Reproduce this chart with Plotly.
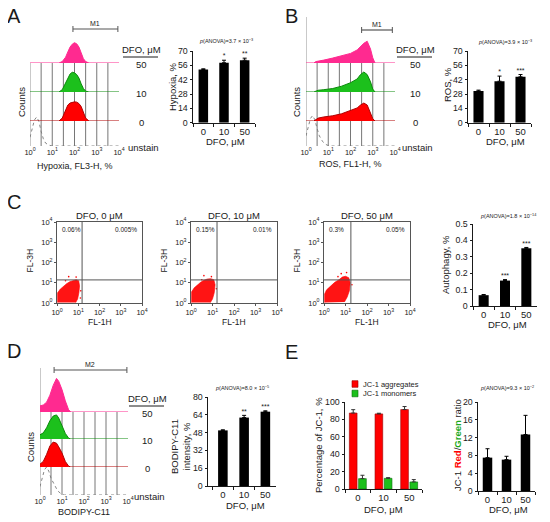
import plotly.graph_objects as go

W, H = 550, 522
OX, OY = 8, 8  # the page puts the figure 8 px in from the corner
FONT = "Arial, Liberation Sans, sans-serif"
INK = "#1a1a1a"
PINK, GREEN, RED = "#ff2a90", "#1cc01c", "#ff0000"

# ---------------- data ----------------
DFO = ["0", "10", "50"]
ROWS = ["50", "10", "0", "unstain"]
DECADES = [0, 1, 2, 3, 4]
DECADE_TEXT = ["10<sup>%d</sup>" % d for d in DECADES]

# flow histograms: log10 intensity bins, relative counts (1 = one row)
hypo_x = [0, 1.3, 1.45, 1.6, 1.7, 1.8, 1.9, 2.0, 2.1, 2.2, 2.3, 2.4, 2.5, 2.65, 4]
hypo_50 = [0, 0, 0.05, 0.2, 0.38, 0.55, 0.65, 0.7, 0.66, 0.55, 0.35, 0.15, 0.05, 0, 0]
hypo_10 = [0, 0, 0.08, 0.3, 0.5, 0.62, 0.68, 0.66, 0.6, 0.48, 0.28, 0.12, 0.03, 0, 0]
hypo_0 = [0, 0, 0.1, 0.35, 0.55, 0.62, 0.65, 0.66, 0.65, 0.6, 0.5, 0.3, 0.1, 0, 0]
hypo_un_x = [0, 0.1, 0.2, 0.3, 0.4, 0.5, 0.6, 0.7, 0.85, 1.0, 4]
hypo_un = [0.3, 0.6, 0.9, 1.0, 0.85, 0.5, 0.25, 0.1, 0.03, 0, 0]

ros_x = [0, 0.35, 0.45, 0.55, 0.8, 1.2, 1.6, 2.0, 2.3, 2.45, 2.6, 2.75, 2.9, 3.0, 3.1, 4]
ros_50 = [0, 0, 0.05, 0.07, 0.1, 0.17, 0.25, 0.33, 0.45, 0.58, 0.68, 0.75, 0.48, 0.18, 0, 0]
ros_10 = [0, 0, 0.03, 0.06, 0.08, 0.12, 0.2, 0.32, 0.45, 0.6, 0.69, 0.6, 0.35, 0.1, 0, 0]
ros_0 = [0, 0, 0.05, 0.1, 0.14, 0.18, 0.25, 0.35, 0.45, 0.55, 0.62, 0.55, 0.3, 0.08, 0, 0]
ros_un_x = [0, 0.1, 0.2, 0.3, 0.4, 0.5, 0.6, 0.75, 0.9, 1.05, 4]
ros_un = [0.35, 0.65, 0.95, 1.05, 0.9, 0.6, 0.35, 0.15, 0.05, 0, 0]

bod_x = [0, 0.15, 0.3, 0.45, 0.6, 0.75, 0.85, 1.0, 1.15, 1.3, 1.4, 4]
bod_50 = [0.22, 0.25, 0.35, 0.6, 0.95, 1.2, 1.1, 0.8, 0.4, 0.08, 0, 0]
bod_10 = [0.15, 0.22, 0.4, 0.65, 0.82, 0.86, 0.75, 0.5, 0.2, 0.03, 0, 0]
bod_0 = [0.1, 0.2, 0.45, 0.75, 0.89, 0.85, 0.72, 0.5, 0.2, 0.03, 0, 0]
bod_un_x = [0, 0.1, 0.2, 0.3, 0.4, 0.5, 0.65, 0.8, 0.95, 1.1, 4]
bod_un = [0.3, 0.6, 0.9, 1.0, 0.85, 0.6, 0.35, 0.15, 0.05, 0, 0]

# gates (log10)
hypo_gate = [1.93, 3.95]
ros_gate = [2.5, 3.88]
bod_gate = [0.64, 3.95]

# FL-1H / FL-3H dot plots: outline of the dense cloud (log10) and stray events
cloud0_x = [0.03, 0.03, 0.15, 0.3, 0.45, 0.6, 0.75, 0.9, 1.02, 1.06, 1.03, 0.97, 0.88]
cloud0_y = [0.02, 0.5, 0.68, 0.82, 0.95, 1.05, 1.12, 1.15, 1.1, 0.85, 0.5, 0.2, 0.02]
cloud10_x = [0.03, 0.03, 0.15, 0.3, 0.45, 0.6, 0.75, 0.92, 1.06, 1.12, 1.08, 1.0, 0.9]
cloud10_y = [0.02, 0.55, 0.75, 0.9, 1.02, 1.12, 1.18, 1.2, 1.15, 0.9, 0.5, 0.2, 0.02]
cloud50_x = [0.03, 0.03, 0.12, 0.3, 0.5, 0.7, 0.85, 1.0, 1.15, 1.22, 1.18, 1.08, 0.95]
cloud50_y = [0.02, 0.45, 0.65, 0.85, 1.02, 1.15, 1.28, 1.32, 1.25, 1.0, 0.6, 0.3, 0.05]
stray0_x = [0.55, 0.9, 1.12, 0.4, 1.1]
stray0_y = [1.3, 1.28, 0.6, 1.1, 0.25]
stray10_x = [0.6, 0.95, 1.18, 0.5]
stray10_y = [1.35, 1.3, 0.7, 1.15]
stray50_x = [0.8, 1.05, 1.3, 0.65]
stray50_y = [1.45, 1.5, 0.9, 1.3]
quad_gate = [[1.18, 1.14], [1.21, 1.14], [1.25, 1.14]]
quad_text = [["0.06%", "0.005%"], ["0.15%", "0.01%"], ["0.3%", "0.05%"]]

# bar charts
hypo_mean, hypo_err, hypo_sig = [52, 58.5, 61], [0.6, 2.5, 2], ["", "*", "**"]
ros_mean, ros_err, ros_sig = [31, 40.5, 44.8], [0.8, 5, 2.2], ["", "*", "***"]
auto_mean, auto_err, auto_sig = [0.066, 0.155, 0.352], [0.004, 0.006, 0.005], ["", "***", "***"]
bod_mean, bod_err, bod_sig = [50, 61.5, 66.8], [0.5, 2, 0.8], ["", "**", "***"]
agg_mean, agg_err = [87.3, 86.3, 91.3], [3.9, 0.8, 3.5]
mono_mean, mono_err = [11.9, 12.3, 8.1], [3.9, 0.7, 2.7]
ratio_mean, ratio_err = [7.5, 7.05, 12.7], [2.0, 0.75, 4.3]

# ---------------- helpers ----------------
fig = go.Figure()
layout = {}
annotations = []
shapes = []
count = [0]


def px(x):
    return (x - OX) / W


def py(y):
    return 1 - (y - OY) / H


def axis_pair(x0, x1, ytop, ybot, xopt, yopt):
    count[0] += 1
    s = "" if count[0] == 1 else str(count[0])
    layout["xaxis" + s] = dict(domain=[px(x0), px(x1)], anchor="y" + s, automargin=False, **xopt)
    layout["yaxis" + s] = dict(domain=[py(ybot), py(ytop)], anchor="x" + s, automargin=False, **yopt)
    return "x" + s, "y" + s


def y_only(xref, ytop, ybot, yopt):
    count[0] += 1
    s = str(count[0])
    layout["yaxis" + s] = dict(domain=[py(ybot), py(ytop)], anchor=xref, automargin=False, **yopt)
    return "y" + s


def text(x, y, s, size=9.5, color=INK, xanchor="center", **kw):
    annotations.append(dict(x=px(x), y=py(y), xref="paper", yref="paper", text=s,
                            showarrow=False, xanchor=xanchor, yanchor="middle",
                            font=dict(size=size, color=color, family=FONT), **kw))


def hline(x0, x1, y, color=INK, width=1):
    shapes.append(dict(type="line", xref="paper", yref="paper", x0=px(x0), x1=px(x1),
                       y0=py(y), y1=py(y), line=dict(color=color, width=width)))


def hist_panel(x0, x1, bases, unit, curves, border_top, gate, gate_y, gate_label,
               label_x, xtitle, xtitle_y, counts_xy):
    span = 42
    xopt = dict(range=[0, 4], tickvals=DECADES, ticktext=DECADE_TEXT, showgrid=False,
                zeroline=False, showline=False, ticks="", tickfont=dict(size=7.5, color=INK),
                fixedrange=True)
    yopt = dict(range=[0, span / unit], visible=False, fixedrange=True)
    xr, ybottom = axis_pair(x0, x1, bases[3] - span, bases[3], xopt, yopt)
    yrefs = [y_only(xr, b - span, b, yopt) for b in bases[:3]] + [ybottom]
    for (xs, ys, fill, edge, dash), yr in zip(curves, yrefs):
        fig.add_trace(go.Scatter(
            x=xs, y=ys, xaxis=xr, yaxis=yr, mode="lines",
            line=dict(color=edge, width=1 if fill else 0.9, dash=dash),
            fill="tozeroy" if fill else "none", fillcolor=fill, hoverinfo="skip"))
    for v in [0.5, 1, 1.5, 2, 2.5, 3, 3.5]:
        shapes.append(dict(type="line", xref=xr, yref="paper", x0=v, x1=v,
                           y0=py(bases[3]), y1=py(bases[0]), layer="below",
                           line=dict(color="#666", width=0.9)))
    shapes.append(dict(type="line", xref=xr, yref="paper", x0=0, x1=0,
                       y0=py(bases[3]), y1=py(border_top), layer="below",
                       line=dict(color="#888", width=0.9)))
    # gate marker
    for v in gate:
        shapes.append(dict(type="line", xref=xr, yref="paper", x0=v, x1=v,
                           y0=py(gate_y + 3), y1=py(gate_y - 3), line=dict(color="#555", width=1)))
    shapes.append(dict(type="line", xref=xr, yref="paper", x0=gate[0], x1=gate[1],
                       y0=py(gate_y), y1=py(gate_y), line=dict(color="#555", width=1.2)))
    gx = x0 + (x1 - x0) * (gate[0] + gate[1]) / 8
    text(gx, gate_y - 6, gate_label, size=7)
    # right-hand labels
    text(label_x, bases[0] - 14, "DFO, μM", size=9.5)
    hline(label_x - 18, label_x + 17, bases[0] - 6, width=1)
    for lab, b in zip(ROWS, bases):
        text(label_x + (2 if lab == "unstain" else 0), b + 1, lab, size=9.5)
    text((x0 + x1) / 2, xtitle_y, xtitle, size=9)
    text(counts_xy[0], counts_xy[1], "Counts", size=9.5, textangle=-90)


def bar_axes(x0, x1, ytop, ybot, ymax, dtick, xr_range=(-0.5, 2.5)):
    xopt = dict(type="category", range=list(xr_range), showline=True, linecolor=INK,
                linewidth=1, ticks="outside", ticklen=3, tickcolor=INK, tickson="boundaries",
                tickangle=0, tickfont=dict(size=9.5, color=INK), showgrid=False, fixedrange=True)
    yopt = dict(range=[0, ymax], dtick=dtick, showline=True, linecolor=INK, linewidth=1,
                ticks="outside", ticklen=2.5, tickcolor=INK, tickfont=dict(size=8.8, color=INK),
                showgrid=False, zeroline=False, fixedrange=True)
    return axis_pair(x0, x1, ytop, ybot, xopt, yopt)


def bar_panel(x0, x1, ytop, ybot, ymax, dtick, mean, err, sig, width=0.48,
              xr_range=(-0.5, 2.5)):
    xr, yr = bar_axes(x0, x1, ytop, ybot, ymax, dtick, xr_range)
    fig.add_trace(go.Bar(
        x=DFO, y=mean, xaxis=xr, yaxis=yr, width=width, marker=dict(color="black", line=dict(width=0)),
        error_y=dict(type="data", array=err, arrayminus=[0] * len(err), symmetric=False,
                     color="black", thickness=1, width=2)))
    if sig:
        keep = [i for i, s in enumerate(sig) if s]
        fig.add_trace(go.Scatter(
            x=[DFO[i] for i in keep], y=[mean[i] + err[i] for i in keep], xaxis=xr, yaxis=yr,
            mode="text", text=[sig[i] for i in keep], textposition="top center",
            textfont=dict(size=7, color=INK), cliponaxis=False, hoverinfo="skip"))
    return xr, yr


def flow_panel(x0, x1, ytop, ybot, cx, cy, sx, sy, gate, qtext, title):
    opt = dict(range=[0, 4], tickvals=DECADES, ticktext=DECADE_TEXT, showline=True,
               mirror=True, linecolor="#555", linewidth=1, ticks="outside", ticklen=2,
               tickcolor="#555", tickfont=dict(size=7.5, color=INK), showgrid=False,
               zeroline=False, fixedrange=True)
    xr, yr = axis_pair(x0, x1, ytop, ybot, dict(opt), dict(opt))
    fig.add_trace(go.Scatter(x=cx, y=cy, xaxis=xr, yaxis=yr, mode="lines", fill="toself",
                             fillcolor="rgba(255,0,0,0.92)", line=dict(color=RED, width=0.6),
                             hoverinfo="skip"))
    fig.add_trace(go.Scatter(x=sx, y=sy, xaxis=xr, yaxis=yr, mode="markers",
                             marker=dict(size=1.6, color=RED), hoverinfo="skip"))
    shapes.append(dict(type="line", xref=xr, yref=yr, x0=gate[0], x1=gate[0], y0=0, y1=4,
                       line=dict(color="#555", width=1)))
    shapes.append(dict(type="line", xref=xr, yref=yr, x0=0, x1=4, y0=gate[1], y1=gate[1],
                       line=dict(color="#555", width=1)))
    text(x0 + 3, ytop + 7, qtext[0], size=6.5, xanchor="left")
    text(x1 - 3, ytop + 7, qtext[1], size=6.5, xanchor="right")
    text((x0 + x1) / 2, ytop - 7, title, size=9.5)
    text((x0 + x1) / 2, 322, "FL-1H", size=8.5)
    text(x0 - 28, (ytop + ybot) / 2 - 2, "FL-3H", size=8.5, textangle=-90)


# ---------------- panel A ----------------
hist_panel(30, 119, [63, 92, 121, 146], 29,
           [(hypo_x, hypo_50, PINK, PINK, "solid"),
            (hypo_x, hypo_10, GREEN, "#0a8a0a", "solid"),
            (hypo_x, hypo_0, RED, "#b00000", "solid"),
            (hypo_un_x, hypo_un, None, "#777", "dot")],
           border_top=63, gate=hypo_gate, gate_y=29, gate_label="M1",
           label_x=141, xtitle="Hypoxia, FL3-H, %", xtitle_y=166, counts_xy=(22, 102))
bar_panel(193, 255, 51, 122.7, 70, 14, hypo_mean, hypo_err, hypo_sig, width=0.46)
text(173, 87, "Hypoxia, %", textangle=-90)
text(225, 142, "DFO, μM")
text(226, 41, "<i>p</i>(ANOVA)=3.7 × 10<sup>−3</sup>", size=5.5)
text(14, 16, "A", size=20)

# ---------------- panel B ----------------
hist_panel(306, 395, [63, 92, 121, 146], 29,
           [(ros_x, ros_50, PINK, PINK, "solid"),
            (ros_x, ros_10, GREEN, "#0a8a0a", "solid"),
            (ros_x, ros_0, RED, "#b00000", "solid"),
            (ros_un_x, ros_un, None, "#777", "dot")],
           border_top=17, gate=ros_gate, gate_y=30, gate_label="M1",
           label_x=415, xtitle="ROS, FL1-H, %", xtitle_y=164, counts_xy=(297, 102))
bar_panel(468, 531, 51, 122.7, 70, 14, ros_mean, ros_err, ros_sig, width=0.48)
text(447, 85, "ROS, %", textangle=-90)
text(506, 142, "DFO, μM")
text(505, 42, "<i>p</i>(ANOVA)=3.9 × 10<sup>−3</sup>", size=5.5)
text(291, 16, "B", size=20)

# ---------------- panel C ----------------
flow_panel(57, 142, 222, 303, cloud0_x, cloud0_y, stray0_x, stray0_y, quad_gate[0],
           quad_text[0], "DFO, 0 μM")
flow_panel(191, 277, 222, 303, cloud10_x, cloud10_y, stray10_x, stray10_y, quad_gate[1],
           quad_text[1], "DFO, 10 μM")
flow_panel(324, 410, 222, 303, cloud50_x, cloud50_y, stray50_x, stray50_y, quad_gate[2],
           quad_text[2], "DFO, 50 μM")
bar_panel(473, 537, 224, 306, 0.5, 0.1, auto_mean, auto_err, auto_sig, width=0.47)
text(446, 265, "Autophagy, %", textangle=-90)
text(507, 324, "DFO, μM")
text(508, 216, "<i>p</i>(ANOVA)=1.8 × 10<sup>−14</sup>", size=5.5)
text(14, 202, "C", size=20)

# ---------------- panel D ----------------
hist_panel(40, 128, [412, 439, 467, 495], 28,
           [(bod_x, bod_50, PINK, PINK, "solid"),
            (bod_x, bod_10, GREEN, "#0a8a0a", "solid"),
            (bod_x, bod_0, RED, "#b00000", "solid"),
            (bod_un_x, bod_un, None, "#777", "dot")],
           border_top=368, gate=bod_gate, gate_y=370, gate_label="M2",
           label_x=147, xtitle="BODIPY-C11", xtitle_y=512, counts_xy=(30, 447))
bar_panel(208, 276, 397, 486, 80, 16, bod_mean, bod_err, bod_sig, width=0.45,
          xr_range=(-0.7, 2.5))
text(180, 447, "BODIPY-C11<br>intensity, %", textangle=-90)
text(245, 505, "DFO, μM")
text(242, 388, "<i>p</i>(ANOVA)=8.0 × 10<sup>−5</sup>", size=5.5)
text(14, 351, "D", size=20)

# ---------------- panel E ----------------
xr, yr = bar_axes(345, 422, 402, 489, 100, 20)
fig.add_trace(go.Bar(x=DFO, y=agg_mean, xaxis=xr, yaxis=yr, width=0.3, offset=-0.33,
                     marker=dict(color=RED, line=dict(color="#990000", width=0.6)),
                     error_y=dict(type="data", array=agg_err, arrayminus=[0, 0, 0],
                                  symmetric=False, color="#333", thickness=1, width=2)))
fig.add_trace(go.Bar(x=DFO, y=mono_mean, xaxis=xr, yaxis=yr, width=0.3, offset=0.03,
                     marker=dict(color=GREEN, line=dict(color="#086b08", width=0.6)),
                     error_y=dict(type="data", array=mono_err, arrayminus=[0, 0, 0],
                                  symmetric=False, color="#333", thickness=1, width=2)))
for i, (lab, col, edge) in enumerate([("JC-1 aggregates", RED, "#990000"),
                                      ("JC-1 monomers", GREEN, "#086b08")]):
    yc = 384 + 9.5 * i
    shapes.append(dict(type="rect", xref="paper", yref="paper", x0=px(352), x1=px(358),
                       y0=py(yc + 3.3), y1=py(yc - 3.3), fillcolor=col,
                       line=dict(color=edge, width=0.6)))
    text(361, yc, lab, size=7.5, xanchor="left")
text(318, 445, "Percentage of JC-1, %", textangle=-90)
text(383, 509, "DFO, μM")

bar_panel(478, 535, 402, 491, 20, 4, ratio_mean, ratio_err, None, width=0.5)
text(457, 445, "JC-1 <b><span style='color:#ff0000'>Red</span></b>/"
               "<b><span style='color:#1aa81a'>Green</span></b> ratio", textangle=-90)
text(508, 509, "DFO, μM")
text(507, 388, "<i>p</i>(ANOVA)=9.3 × 10<sup>−2</sup>", size=5.5)
text(291, 352, "E", size=20)

layout.update(dict(
    width=W, height=H, margin=dict(l=0, r=0, t=0, b=0, pad=0), autosize=False,
    paper_bgcolor="white", plot_bgcolor="rgba(0,0,0,0)",
    showlegend=False, barmode="overlay",
    font=dict(family=FONT, color=INK),
    annotations=annotations, shapes=shapes,
))
fig.update_layout(**layout)
fig.write_html("out.html")
